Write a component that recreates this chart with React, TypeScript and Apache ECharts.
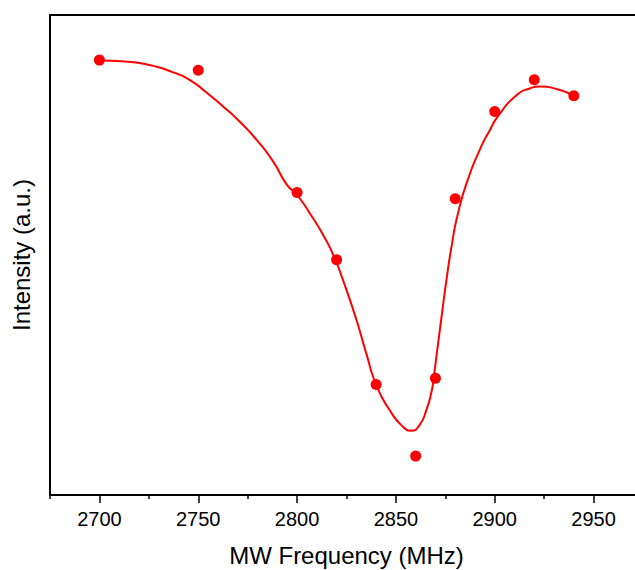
import React, { useEffect, useRef } from "react";
import * as echarts from "echarts";

// Measured data points (MW frequency in MHz, normalized intensity a.u.)
const pointFreq = [2700, 2750, 2800, 2820, 2840, 2860, 2870, 2880, 2900, 2920, 2940];
const pointIntensity = [0.906, 0.885, 0.63, 0.49, 0.23, 0.081, 0.243, 0.617, 0.799, 0.865, 0.832];

// Fitted curve
const fitFreq = [
  2700.0, 2712.7, 2725.3, 2737.0, 2745.6, 2754.0, 2762.4, 2770.9, 2779.3, 2787.7,
  2794.9, 2800.0, 2808.0, 2813.1, 2818.1, 2823.2, 2830.0, 2835.0, 2840.1, 2846.8,
  2853.6, 2857.8, 2862.0, 2865.4, 2868.0, 2869.1, 2870.9, 2873.2, 2875.7, 2878.2,
  2881.3, 2886.3, 2892.4, 2897.5, 2902.5, 2911.0, 2917.7, 2922.8, 2931.2, 2940.0,
];
const fitIntensity = [
  0.905, 0.903, 0.896, 0.881, 0.865, 0.839, 0.81, 0.778, 0.741, 0.696,
  0.646, 0.625, 0.577, 0.542, 0.502, 0.448, 0.365, 0.295, 0.229, 0.177,
  0.142, 0.134, 0.146, 0.177, 0.215, 0.244, 0.302, 0.375, 0.452, 0.519,
  0.585, 0.656, 0.719, 0.76, 0.794, 0.833, 0.847, 0.851, 0.846, 0.831,
];

// Axis ticks
const majorTicks = [2700, 2750, 2800, 2850, 2900, 2950];
const minorTicks = [2675, 2725, 2775, 2825, 2875, 2925, 2975];

const xName = "MW Frequency (MHz)";
const yName = "Intensity (a.u.)";
const FONT = "'Liberation Sans', Arial, Helvetica, sans-serif";

export default function App() {
  const ref = useRef<HTMLDivElement>(null);
  useEffect(() => {
    if (!ref.current) return;
    const chart = echarts.init(ref.current, null, { renderer: "svg" });
    chart.setOption({
      animation: false,
      backgroundColor: "#ffffff",
      grid: {
        left: 50,
        top: 15,
        width: 593,
        height: 480,
        show: true,
        borderColor: "#000",
        borderWidth: 2,
        containLabel: false,
        outerBoundsMode: "none",
      },
      xAxis: [
        {
          type: "value",
          position: "bottom",
          min: 2675,
          max: 2975,
          name: xName,
          nameLocation: "middle",
          nameGap: 48,
          nameTextStyle: { fontFamily: FONT, fontSize: 24, color: "#000" },
          axisLine: { show: true, onZero: false, lineStyle: { color: "#000", width: 2 } },
          axisTick: {
            show: true,
            inside: false,
            length: 8,
            customValues: majorTicks,
            lineStyle: { color: "#000", width: 1.5 },
          },
          axisLabel: {
            fontFamily: FONT,
            fontSize: 20,
            color: "#000",
            margin: 14,
            customValues: majorTicks,
            formatter: (v: number) => String(v),
          },
          splitLine: { show: false },
        },
        {
          type: "value",
          position: "bottom",
          min: 2675,
          max: 2975,
          axisLine: { show: false, onZero: false },
          axisTick: {
            show: true,
            inside: false,
            length: 4,
            customValues: minorTicks,
            lineStyle: { color: "#000", width: 1.5 },
          },
          axisLabel: { show: false },
          splitLine: { show: false },
        },
      ],
      yAxis: {
        type: "value",
        min: 0,
        max: 1,
        name: yName,
        nameLocation: "middle",
        nameGap: 17,
        nameTextStyle: { fontFamily: FONT, fontSize: 24, color: "#000" },
        axisLine: { show: true, onZero: false, lineStyle: { color: "#000", width: 2 } },
        axisTick: { show: false },
        axisLabel: { show: false },
        splitLine: { show: false },
      },
      series: [
        {
          type: "line",
          xAxisIndex: 0,
          data: fitFreq.map((f, i) => [f, fitIntensity[i]]),
          smooth: 0.6,
          showSymbol: false,
          symbol: "none",
          lineStyle: { color: "#ff0000", width: 2 },
          z: 2,
        },
        {
          type: "scatter",
          xAxisIndex: 0,
          data: pointFreq.map((f, i) => [f, pointIntensity[i]]),
          symbol: "circle",
          symbolSize: 11,
          itemStyle: { color: "#ff0000", opacity: 1 },
          z: 3,
        },
      ],
    });
    return () => chart.dispose();
  }, []);
  return (
    <div
      ref={ref}
      style={{ position: "fixed", left: 0, top: 0, width: 660, height: 570, background: "#fff" }}
    />
  );
}
